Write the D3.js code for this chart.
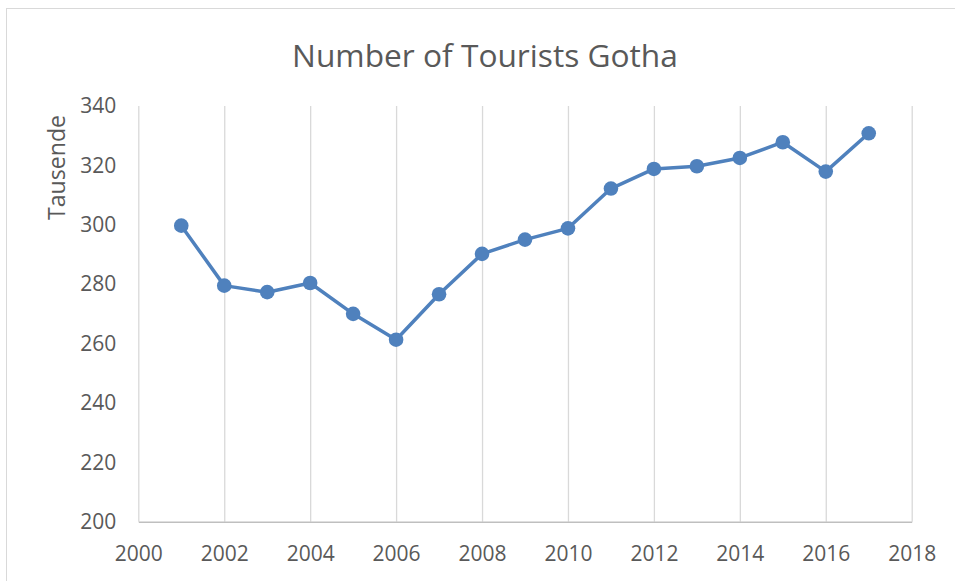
<!DOCTYPE html>
<html>
<head>
<meta charset="utf-8">
<script src="https://cdn.jsdelivr.net/npm/d3@7"></script>
<style>
  html, body { margin: 0; padding: 0; background: #ffffff; }
  svg { display: block; }
  text { font-family: "Open Sans", "Noto Sans", sans-serif; fill: #595959; }
</style>
</head>
<body>
<svg id="chart" width="955" height="581"></svg>
<script>
// Annual tourist counts for Gotha, in thousands
const years = [2001, 2002, 2003, 2004, 2005, 2006, 2007, 2008, 2009,
               2010, 2011, 2012, 2013, 2014, 2015, 2016, 2017];
const tourists = [299.7, 279.5, 277.3, 280.4, 270.0, 261.3, 276.6, 290.2, 295.0,
                  298.8, 312.2, 318.8, 319.7, 322.5, 327.8, 317.9, 330.8];
const xTicks = [2000, 2002, 2004, 2006, 2008, 2010, 2012, 2014, 2016, 2018];
const yTicks = [200, 220, 240, 260, 280, 300, 320, 340];
const titleText = "Number of Tourists Gotha";
const yLabelText = "Tausende";

const svg = d3.select("#chart");

// Chart frame (right and bottom edges fall outside the view)
svg.append("rect")
  .attr("x", 6.5).attr("y", 8.5)
  .attr("width", 960).attr("height", 590)
  .attr("fill", "#ffffff")
  .attr("stroke", "#d9d9d9")
  .attr("stroke-width", 1);

const x = d3.scaleLinear().domain([2000, 2018]).range([138.3, 911.7]);
const y = d3.scaleLinear().domain([200, 340]).range([521.7, 106]);

// Vertical gridlines
svg.append("g")
  .attr("transform", `translate(0,${y(200)})`)
  .call(d3.axisBottom(x).tickValues(xTicks).tickSize(-(y(200) - y(340))).tickFormat(""))
  .call(g => g.select(".domain").remove())
  .call(g => g.selectAll(".tick line").attr("stroke", "#d9d9d9").attr("stroke-width", 1.3));

// X axis line and labels
const xAxis = svg.append("g")
  .attr("transform", `translate(0,${y(200)})`)
  .call(d3.axisBottom(x).tickValues(xTicks).tickSize(0).tickPadding(24).tickFormat(d3.format("d")));
xAxis.select(".domain").attr("stroke", "#bfbfbf").attr("stroke-width", 1.5);
xAxis.selectAll(".tick text")
  .attr("font-size", 21)
  .attr("font-family", "Open Sans, sans-serif")
  .attr("fill", "#595959");

// Y axis labels (no axis line)
const yAxis = svg.append("g")
  .attr("transform", `translate(${x(2000)},0)`)
  .call(d3.axisLeft(y).tickValues(yTicks).tickSize(0).tickPadding(22).tickFormat(d3.format("d")));
yAxis.select(".domain").remove();
yAxis.selectAll(".tick text")
  .attr("font-size", 21)
  .attr("font-family", "Open Sans, sans-serif")
  .attr("fill", "#595959");

// Title, sized to its span
const title = svg.append("text")
  .attr("x", 485).attr("y", 66.5)
  .attr("text-anchor", "middle")
  .attr("font-size", 29)
  .text(titleText);
const tw = title.node().getComputedTextLength();
title.attr("font-size", 29 * 386 / tw);

// Y axis title
const yl = svg.append("text")
  .attr("transform", "translate(65,167.5) rotate(-90)")
  .attr("text-anchor", "middle")
  .attr("font-size", 21)
  .text(yLabelText);
const yw = yl.node().getComputedTextLength();
yl.attr("font-size", 21 * 105 / yw);

// Series line
const pts = years.map((yr, i) => [yr, tourists[i]]);
svg.append("path")
  .datum(pts)
  .attr("fill", "none")
  .attr("stroke", "#4f81bd")
  .attr("stroke-width", 3.5)
  .attr("stroke-linejoin", "round")
  .attr("d", d3.line().x(d => x(d[0])).y(d => y(d[1])));

// Markers
svg.append("g")
  .selectAll("circle")
  .data(pts)
  .join("circle")
  .attr("cx", d => x(d[0]))
  .attr("cy", d => y(d[1]))
  .attr("r", 7.3)
  .attr("fill", "#4f81bd");
</script>
</body>
</html>
